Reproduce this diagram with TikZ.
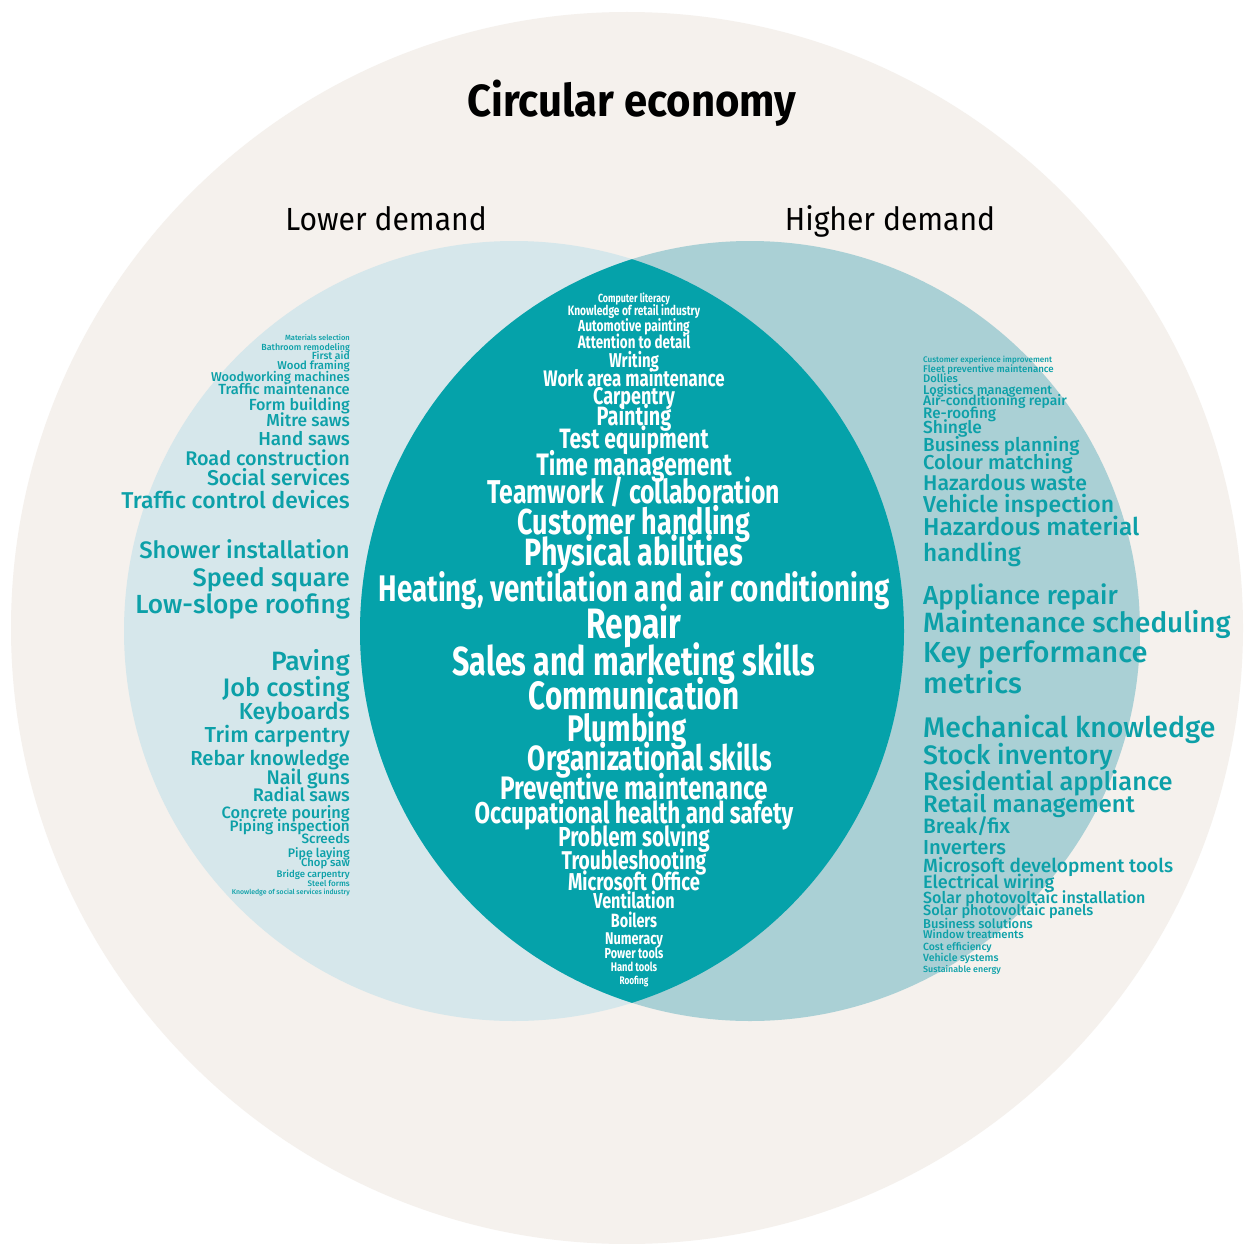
\documentclass[tikz,border=0pt]{standalone}
\usepackage{fontspec}
\setmainfont{Fira Sans}
\newfontfamily\sidefont{Fira Sans Medium}
\usepackage{tikz}
\definecolor{outerbg}{HTML}{F5F1ED}
\definecolor{lowfill}{HTML}{D6E7EB}
\definecolor{highfill}{HTML}{AAD0D5}
\definecolor{lensfill}{HTML}{05A2AA}
\definecolor{skilltxt}{HTML}{0CA0A8}

\begin{document}
\begin{tikzpicture}[x=1pt, y=-1pt,
    lo/.style={anchor=mid east, inner sep=0pt, text=skilltxt,
               font=\sidefont\fontsize{#1}{#1}\selectfont},
    hi/.style={anchor=mid west, inner sep=0pt, text=skilltxt,
               font=\sidefont\fontsize{#1}{#1}\selectfont},
    mid/.style={anchor=mid, inner sep=0pt, text=white, xscale=0.75, transform shape,
                font=\bfseries\fontsize{#1}{#1}\selectfont},
    head/.style={anchor=mid, inner sep=0pt, xscale=0.94, transform shape,
                 font=\fontsize{32}{32}\selectfont}
  ]
  \useasboundingbox (0,0) rectangle (1247,1244);
  \fill[white] (0,0) rectangle (1247,1244);
  % -- circles --
  \fill[outerbg] (627,628) circle (616);
  \fill[lowfill] (514,631) circle (390);
  \fill[highfill] (750,631) circle (390);
  \begin{scope}
    \clip (514,631) circle (390);
    \fill[lensfill] (750,631) circle (390);
  \end{scope}
  % -- headings --
  \node[anchor=mid, inner sep=0pt, xscale=0.93, transform shape,
        font=\bfseries\fontsize{45}{45}\selectfont] (title) at (632,114) {Circular economy};
  \node[head] (lower) at (386,228) {Lower demand};
  \node[head] (higher) at (890,228) {Higher demand};
  % -- lower demand --
  \foreach \y/\sz/\txt [count=\i] in {
      336/7.5/Materials selection, 345/8.9/Bathroom remodeling, 354/10.4/First aid,
      364/11.4/Wood framing, 375/12.8/Woodworking machines, 388/14.7/Traffic maintenance,
      403/16.1/Form building, 419/17.3/Mitre saws, 437/18.8/Hand saws,
      457/19.8/Road construction, 477/21.4/Social services, 499/22.9/Traffic control devices,
      549/23.8/Shower installation, 577/25.3/Speed square, 603/26.2/Low-slope roofing,
      660/26.5/Paving, 687/25.3/Job costing, 710/23.1/Keyboards,
      734/21.7/Trim carpentry, 757/20.3/Rebar knowledge, 776/19.8/Nail guns,
      794/18.2/Radial saws, 811/16.4/Concrete pouring, 824/15.2/Piping inspection,
      837/13.5/Screeds, 851/12.4/Pipe laying, 861/11.3/Chop saw,
      872/9.6/Bridge carpentry, 882/8.1/Steel forms,
      890/6.9/Knowledge of social services industry}{
    \node[lo=\sz] (l\i) at (350,{\y+0.29*\sz}) {\txt};
  }
  % -- higher demand --
  \foreach \y/\sz/\txt [count=\i] in {
      358/8.1/Customer experience improvement, 367/9.7/Fleet preventive maintenance,
      377/11.1/Dollies, 388/12.7/Logistics management, 399/13.9/Air-conditioning repair,
      411/15.2/Re-roofing, 426/17.4/Shingle, 443/18.9/Business planning,
      461/20.1/Colour matching, 482/21.3/Hazardous waste, 503/23/Vehicle inspection,
      526/24.4/Hazardous material, 552/24.4/handling,
      594/26.1/Appliance repair, 622/27.9/Maintenance scheduling,
      651/29/Key performance, 682/29/metrics,
      727/28.4/Mechanical knowledge, 754/26.7/Stock inventory,
      780/25.4/Residential appliance, 803/24/Retail management, 825/20.8/{Break/fix},
      846/20.3/Inverters, 864/19.1/Microsoft development tools, 881/18.1/Electrical wiring,
      896/16.1/Solar photovoltaic installation, 909/14.6/Solar photovoltaic panels,
      922/12.9/Business solutions, 933/11.3/Window treatments, 945/10.4/Cost efficiency,
      956/10.5/Vehicle systems, 967/8.9/Sustainable energy}{
    \node[hi=\sz] (h\i) at (923,{\y+0.29*\sz}) {\txt};
  }
  % -- both --
  \foreach \x/\y/\sz/\txt [count=\i] in {
      634/296/11.8/Computer literacy, 634/309/13.6/Knowledge of retail industry,
      634/324/16/Automotive painting, 634/341/17.9/Attention to detail,
      634/359/20/Writing, 634/377/22.5/Work area maintenance, 634/395/24/Carpentry,
      634/415/26.5/Painting, 634/438/28/Test equipment, 634/464/31/Time management,
      634/491/33/{Teamwork / collaboration}, 634/521/36/Customer handling,
      634/552/38/Physical abilities,
      634/588/37/{Heating, ventilation and air conditioning},
      634/624/42.5/Repair, 634/661/40.5/Sales and marketing skills,
      634/695/39.5/Communication, 627/728/37/Plumbing,
      650/758/35/Organizational skills, 634/787/32.5/Preventive maintenance,
      634/812/30/Occupational health and safety, 634/836/27.5/Problem solving,
      634/859/25.7/Troubleshooting, 634/881/24.4/Microsoft Office,
      634/900/21.6/Ventilation, 634/919/19.2/Boilers, 634/937/17/Numeracy,
      634/952/14.5/Power tools, 634/965/12.5/Hand tools, 634/979/11/Roofing}{
    \node[mid=\sz] (m\i) at (\x,{\y+0.29*\sz}) {\txt};
  }
\end{tikzpicture}
\end{document}
